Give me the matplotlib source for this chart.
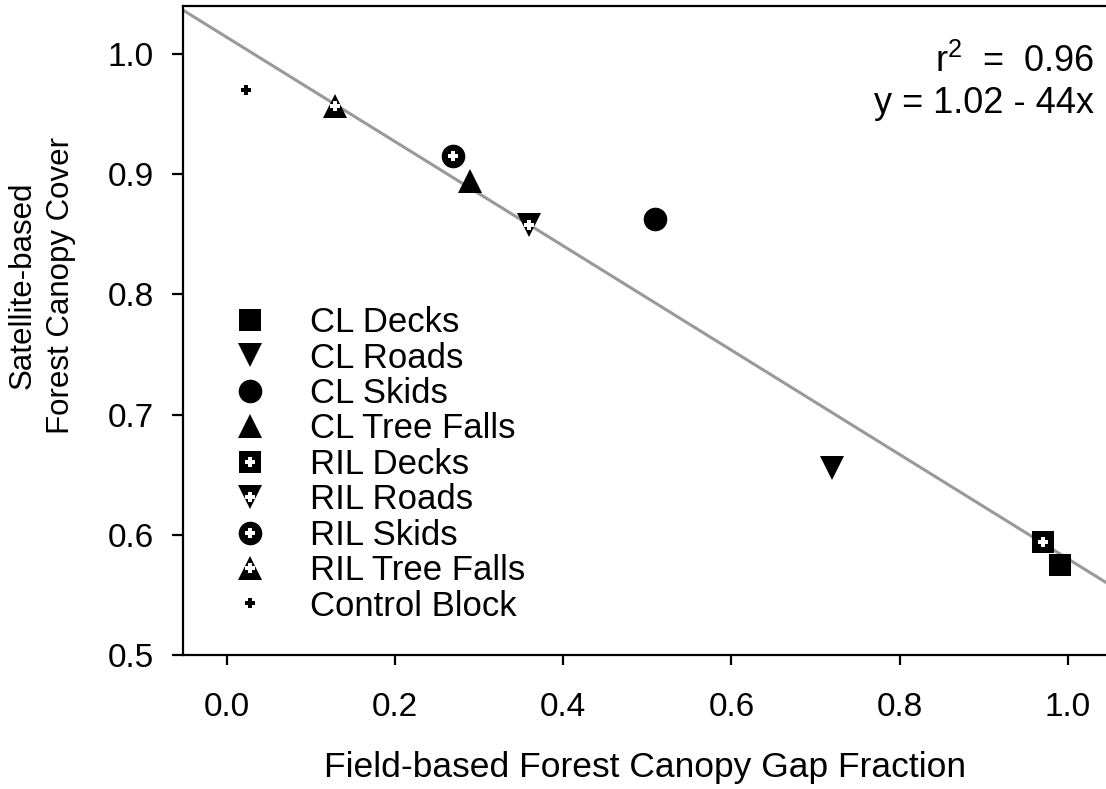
import matplotlib
matplotlib.use('Agg')
import matplotlib.pyplot as plt
import numpy as np

plt.rcParams['font.family'] = ['Liberation Sans', 'DejaVu Sans']
plt.rcParams['mathtext.fontset'] = 'custom'
plt.rcParams['mathtext.rm'] = 'Liberation Sans'

# values
categories = ['CL Decks', 'CL Roads', 'CL Skids', 'CL Tree Falls',
              'RIL Decks', 'RIL Roads', 'RIL Skids', 'RIL Tree Falls',
              'Control Block']
gap_fraction = [0.990, 0.720, 0.509, 0.289, 0.970, 0.359, 0.269, 0.129, 0.023]
canopy_cover = [0.575, 0.656, 0.8625, 0.894, 0.594, 0.858, 0.915, 0.9565, 0.970]
markers = ['s', 'v', 'o', '^', 's', 'v', 'o', '^', 'P']
marker_sizes = [16, 17, 17, 17, 16, 17, 17, 17, 7.5]
has_cross = [False, False, False, False, True, True, True, True, False]

fit_intercept = 1.014
fit_slope = -0.434
x_ticks = [0.0, 0.2, 0.4, 0.6, 0.8, 1.0]
y_ticks = [0.5, 0.6, 0.7, 0.8, 0.9, 1.0]

fig = plt.figure(figsize=(11.06, 7.89), dpi=100)
ax = fig.add_axes([183 / 1106, 1 - 655 / 789, 927 / 1106, 649 / 789])
ax.set_xlim(-0.052, 1.05)
ax.set_ylim(0.5, 1.04)

xs = np.array(ax.get_xlim())
ax.plot(xs, fit_intercept + fit_slope * xs, color='#999999', lw=2.2, zorder=1)

handles = []
for name, x, y, m, ms, cross in zip(categories, gap_fraction, canopy_cover,
                                     markers, marker_sizes, has_cross):
    h, = ax.plot([x], [y], linestyle='none', marker=m, ms=ms, color='black',
                 markeredgewidth=0, zorder=3)
    if cross:
        w, = ax.plot([x], [y], linestyle='none', marker='P', ms=6.5,
                     color='white', markeredgewidth=0, zorder=4)
        handles.append((h, w))
    else:
        handles.append(h)

ax.legend(handles, categories, loc='upper left',
          bbox_to_anchor=(0.0544, 0.5376), frameon=False, fontsize=25,
          borderpad=0, borderaxespad=0, handlelength=0.96,
          handletextpad=1.25, labelspacing=0.07)

ax.text(0.983, 0.898, r'r$^2$  =  0.96', transform=ax.transAxes,
        ha='right', va='baseline', fontsize=26)
ax.text(0.983, 0.835, 'y = 1.02 - 44x', transform=ax.transAxes,
        ha='right', va='baseline', fontsize=26)

ax.set_xticks(x_ticks)
ax.set_xticklabels([f'{v:.1f}' for v in x_ticks])
ax.set_yticks(y_ticks)
ax.set_yticklabels([f'{v:.1f}' for v in y_ticks])
ax.tick_params(axis='x', direction='out', length=7.5, width=1.6,
               pad=19, labelsize=24)
ax.tick_params(axis='y', direction='out', length=8, width=1.6,
               pad=13, labelsize=24)
for s in ax.spines.values():
    s.set_linewidth(1.6)

ax.set_xlabel('Field-based Forest Canopy Gap Fraction', fontsize=25.5)
ax.xaxis.set_label_coords(0.498, -0.1875)
ax.xaxis.label.set_va('baseline')

fig.text(42 / 1106, 1 - 285 / 789, 'Satellite-based\nForest Canopy Cover',
         rotation=90, ha='center', va='center', multialignment='center',
         fontsize=22.5, linespacing=1.35)

fig.savefig('out.png', dpi=100)
